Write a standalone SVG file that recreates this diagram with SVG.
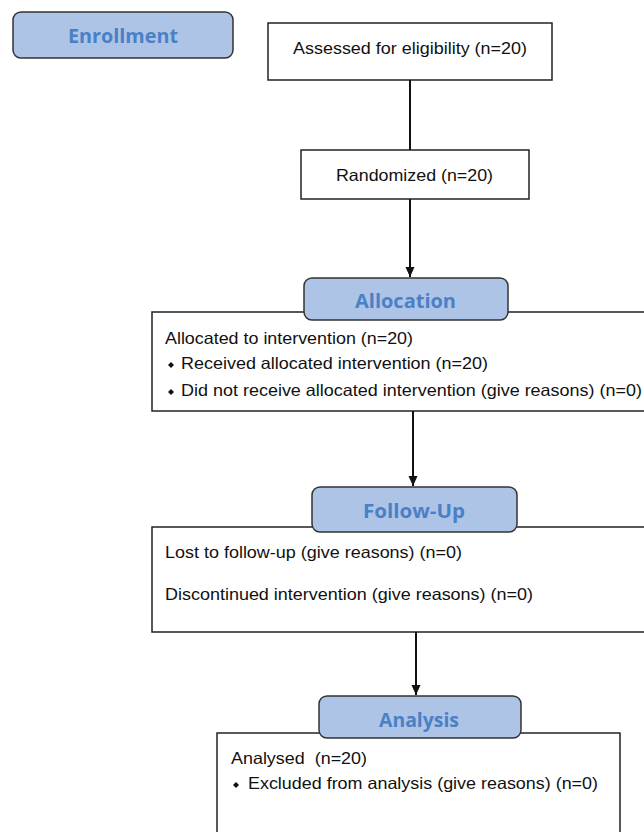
<svg xmlns="http://www.w3.org/2000/svg" width="644" height="832" viewBox="0 0 644 832">
<defs>
<marker id="arr" markerWidth="10" markerHeight="11" refX="11" refY="5" orient="auto" markerUnits="userSpaceOnUse" viewBox="0 0 11 10">
<path d="M0,0 L11,5 L0,10 Z" fill="#111"/>
</marker>
<style>
.box{fill:#fff;stroke:#222;stroke-width:1.5}
.hdr{fill:#adc4e6;stroke:#333;stroke-width:1.5}
.ht{font-family:"Open Sans","Liberation Sans",sans-serif;font-weight:bold;font-size:20px;fill:#4a80c6}
.t{font-family:"Liberation Sans",Arial,sans-serif;font-size:16.5px;fill:#111;white-space:pre}
.c{stroke:#111;stroke-width:2;fill:none}
.b{fill:#111}
</style>
</defs>
<rect width="644" height="832" fill="#fff"/>
<g id="enrollment">
<rect class="hdr" x="13" y="12" width="220" height="46" rx="8"/>
<text class="ht" x="68" y="43" textLength="110" lengthAdjust="spacingAndGlyphs">Enrollment</text>
</g>
<g id="assessed">
<rect class="box" x="268" y="23" width="284" height="57"/>
<text class="t" x="293" y="54" textLength="234" lengthAdjust="spacingAndGlyphs">Assessed for eligibility (n=20)</text>
</g>
<g id="randomized">
<rect class="box" x="301" y="150" width="228" height="49"/>
<text class="t" x="336" y="181" textLength="157" lengthAdjust="spacingAndGlyphs">Randomized (n=20)</text>
</g>
<g id="allocation-box">
<rect class="box" x="152" y="312" width="510" height="99"/>
<text class="t" x="165" y="344" textLength="248" lengthAdjust="spacingAndGlyphs">Allocated to intervention (n=20)</text>
<path class="b" d="M171,362 l3,3 l-3,3 l-3,-3 Z"/>
<text class="t" x="181" y="369" textLength="307" lengthAdjust="spacingAndGlyphs">Received allocated intervention (n=20)</text>
<path class="b" d="M171,389 l3,3 l-3,3 l-3,-3 Z"/>
<text class="t" x="181" y="396" textLength="461" lengthAdjust="spacingAndGlyphs">Did not receive allocated intervention (give reasons) (n=0)</text>
</g>
<g id="allocation">
<rect class="hdr" x="304" y="278" width="204" height="42" rx="8"/>
<text class="ht" x="355" y="308" textLength="101" lengthAdjust="spacingAndGlyphs">Allocation</text>
</g>
<g id="followup-box">
<rect class="box" x="152" y="527" width="510" height="105"/>
<text class="t" x="165" y="558" textLength="297" lengthAdjust="spacingAndGlyphs">Lost to follow-up (give reasons) (n=0)</text>
<text class="t" x="165" y="600" textLength="368" lengthAdjust="spacingAndGlyphs">Discontinued intervention (give reasons) (n=0)</text>
</g>
<g id="followup">
<rect class="hdr" x="312" y="487" width="205" height="45" rx="8"/>
<text class="ht" x="363" y="518" textLength="102" lengthAdjust="spacingAndGlyphs">Follow-Up</text>
</g>
<g id="analysis-box">
<rect class="box" x="217" y="733" width="403" height="120"/>
<text class="t" x="231" y="764" textLength="136" lengthAdjust="spacingAndGlyphs">Analysed  (n=20)</text>
<path class="b" d="M236,782 l3,3 l-3,3 l-3,-3 Z"/>
<text class="t" x="248" y="789" textLength="350" lengthAdjust="spacingAndGlyphs">Excluded from analysis (give reasons) (n=0)</text>
</g>
<g id="analysis">
<rect class="hdr" x="319" y="696" width="202" height="42" rx="8"/>
<text class="ht" x="379" y="727" textLength="80" lengthAdjust="spacingAndGlyphs">Analysis</text>
</g>
<g id="connectors">
<line class="c" x1="410" y1="80" x2="410" y2="150"/>
<line class="c" x1="410" y1="199" x2="410" y2="277" marker-end="url(#arr)"/>
<line class="c" x1="413" y1="411" x2="413" y2="486" marker-end="url(#arr)"/>
<line class="c" x1="416" y1="632" x2="416" y2="695" marker-end="url(#arr)"/>
</g>
</svg>
